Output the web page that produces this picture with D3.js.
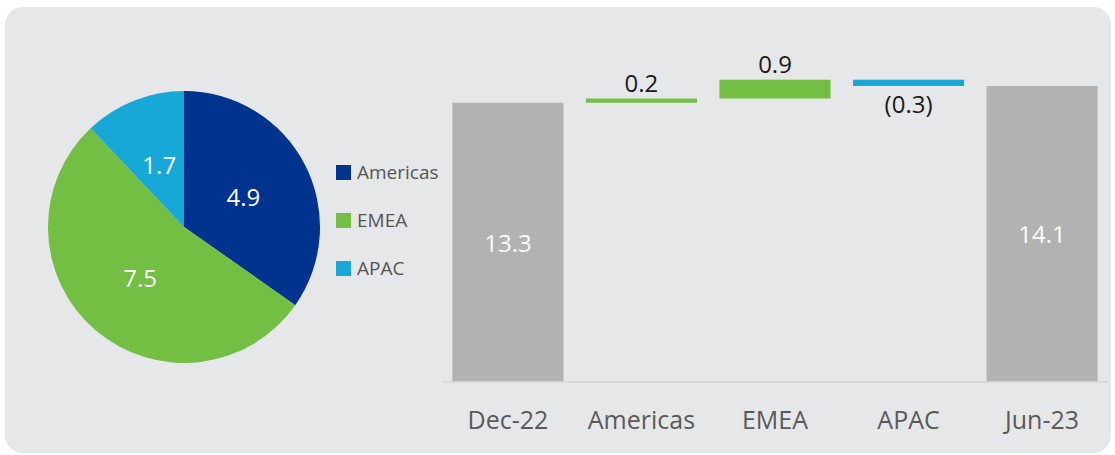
<!DOCTYPE html>
<html>
<head>
<meta charset="utf-8">
<script src="https://cdn.jsdelivr.net/npm/d3@7"></script>
<style>
  html, body { margin: 0; padding: 0; background: #ffffff; }
  svg { display: block; }
  text { font-family: "Open Sans", "Noto Sans", sans-serif; }
</style>
</head>
<body>
<svg id="chart" width="1115" height="455"></svg>
<script>
// Regional split (pie)
const regions = ["Americas", "EMEA", "APAC"];
const regionValues = [4.9, 7.5, 1.7];
const regionColors = ["#00338d", "#72bf44", "#17a8d8"];

// Bridge from Dec-22 to Jun-23 (waterfall)
const bridgeLabels = ["Dec-22", "Americas", "EMEA", "APAC", "Jun-23"];
const bridgeValues = [13.3, 0.2, 0.9, -0.3, 14.1];
const bridgeKinds = ["total", "delta", "delta", "delta", "total"];
const bridgeColors = ["#b2b2b2", "#72bf44", "#72bf44", "#17a8d8", "#b2b2b2"];

const fmt = v => v < 0 ? "(" + d3.format(".1f")(-v) + ")" : d3.format(".1f")(v);

const svg = d3.select("#chart");

// Panel background
svg.append("rect")
  .attr("x", 5).attr("y", 7)
  .attr("width", 1106).attr("height", 446)
  .attr("rx", 18).attr("ry", 18)
  .attr("fill", "#e6e7e9");

// ---------- Pie ----------
const pieG = svg.append("g").attr("transform", "translate(184,227)");
const radius = 136;
const pie = d3.pie().sort(null).value(d => d.value);
const pieData = pie(regions.map((r, i) => ({ name: r, value: regionValues[i], color: regionColors[i] })));
const arc = d3.arc().innerRadius(0).outerRadius(radius);
const labelArc = d3.arc().innerRadius(67).outerRadius(67);

pieG.selectAll("path.slice")
  .data(pieData)
  .join("path")
  .attr("class", "slice")
  .attr("d", arc)
  .attr("fill", d => d.data.color);

pieG.selectAll("text.slice-label")
  .data(pieData)
  .join("text")
  .attr("class", "slice-label")
  .attr("transform", d => `translate(${labelArc.centroid(d)})`)
  .attr("text-anchor", "middle")
  .attr("dominant-baseline", "central")
  .attr("fill", "#ffffff")
  .attr("font-size", 24)
  .text(d => fmt(d.data.value));

// Legend
const legend = svg.append("g").attr("transform", "translate(336,165)");
const legendItems = legend.selectAll("g")
  .data(regions)
  .join("g")
  .attr("transform", (d, i) => `translate(0,${i * 48})`);
legendItems.append("rect")
  .attr("width", 15).attr("height", 15)
  .attr("fill", (d, i) => regionColors[i]);
legendItems.append("text")
  .attr("x", 21).attr("y", 14)
  .attr("fill", "#555555")
  .attr("font-size", 19)
  .text(d => d);

// ---------- Waterfall ----------
let running = 0;
const bars = bridgeLabels.map((label, i) => {
  const v = bridgeValues[i];
  let y0, y1;
  if (bridgeKinds[i] === "total") {
    y0 = 0; y1 = v; running = v;
  } else {
    y0 = running; y1 = running + v; running = y1;
  }
  return { label, value: v, kind: bridgeKinds[i], lo: Math.min(y0, y1), hi: Math.max(y0, y1), color: bridgeColors[i] };
});

const x = d3.scaleBand()
  .domain(bridgeLabels)
  .range([441.7, 1108.3])
  .paddingInner(0.168)
  .paddingOuter(0.08);

const y = d3.scaleLinear()
  .domain([0, 15])
  .range([381.5, 381.5 - 15 * 20.96]);

const wf = svg.append("g");

wf.selectAll("rect.bar")
  .data(bars)
  .join("rect")
  .attr("class", "bar")
  .attr("x", d => x(d.label))
  .attr("width", x.bandwidth())
  .attr("y", d => y(d.hi))
  .attr("height", d => y(d.lo) - y(d.hi))
  .attr("fill", d => d.color);

// Axis
const axis = svg.append("g")
  .attr("transform", `translate(0,${y(0)})`)
  .call(d3.axisBottom(x).tickSize(0).tickPadding(0));
axis.select(".domain").attr("stroke", "#d3d4d6").attr("stroke-width", 1.5);
axis.selectAll(".tick text")
  .attr("font-family", "'Open Sans', 'Noto Sans', sans-serif")
  .attr("font-size", 25)
  .attr("fill", "#5a5a5a")
  .attr("dy", null)
  .attr("y", 47);

// Value labels
wf.selectAll("text.value")
  .data(bars)
  .join("text")
  .attr("class", "value")
  .attr("x", d => x(d.label) + x.bandwidth() / 2)
  .attr("y", d => {
    if (d.kind === "total") return (y(d.lo) + y(d.hi)) / 2;
    return d.value >= 0 ? y(d.hi) - 7 : y(d.lo) + 27;
  })
  .attr("dominant-baseline", d => d.kind === "total" ? "central" : "alphabetic")
  .attr("text-anchor", "middle")
  .attr("font-size", 24)
  .attr("fill", d => d.kind === "total" ? "#ffffff" : "#1a1a1a")
  .text(d => fmt(d.value));
</script>
</body>
</html>
